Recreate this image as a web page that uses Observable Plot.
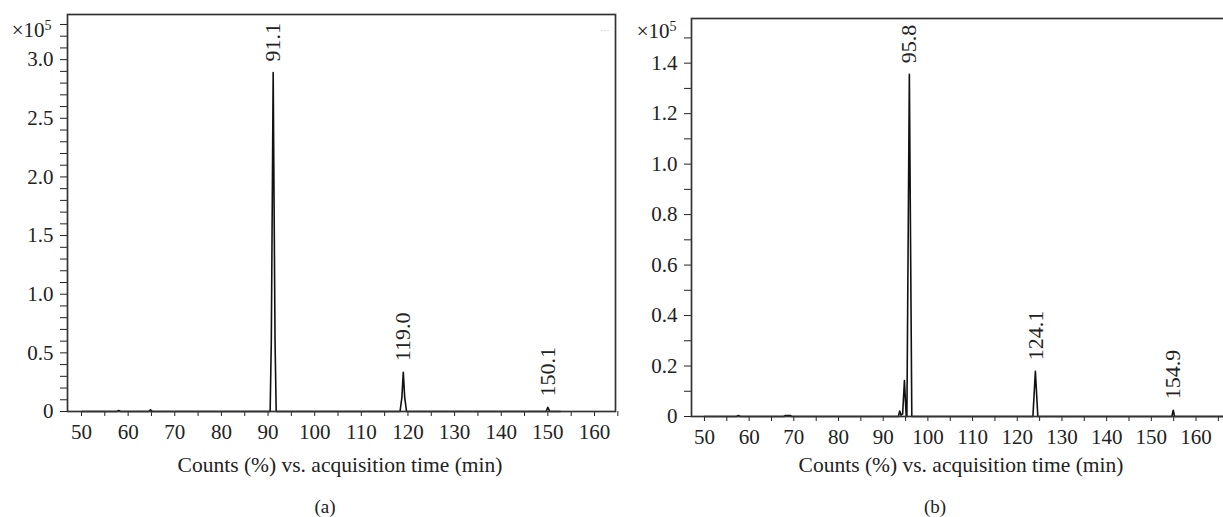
<!DOCTYPE html>
<html><head><meta charset="utf-8">
<script src="https://cdn.jsdelivr.net/npm/d3@7"></script>
<script src="https://cdn.jsdelivr.net/npm/@observablehq/plot@0.6"></script>
<style>
html,body{margin:0;padding:0;background:#fff;}
body{width:1223px;height:517px;overflow:hidden;position:relative;font-family:"Liberation Serif","Times New Roman",serif;color:#222;}
.panel{position:absolute;top:0;}
.xlabel{position:absolute;top:452px;font-size:21.5px;line-height:26px;white-space:nowrap;transform:translateX(-50%);}
.cap{position:absolute;top:496px;font-size:19px;line-height:22px;white-space:nowrap;transform:translateX(-50%);}
</style></head><body>
<div id="a" class="panel" style="left:0;width:625px"></div>
<div id="b" class="panel" style="left:612px;width:640px"></div>
<div class="xlabel" style="left:340px">Counts (%) vs. acquisition time (min)</div>
<div class="xlabel" style="left:961px">Counts (%) vs. acquisition time (min)</div>
<div class="cap" style="left:325px">(a)</div>
<div class="cap" style="left:935px">(b)</div>
<script>
// ---- Data (counts in ×10^5, time in min) ----
const timesA  = [50, 57.6, 58.0, 58.4, 64.4, 64.8, 65.2, 90.45, 90.7, 91.1, 91.5, 91.75, 118.3, 118.7, 119.0, 119.3, 119.7, 149.6, 150.0, 150.4, 152.7];
const countsA = [0, 0, 0.008, 0, 0, 0.015, 0, 0, 0.6, 2.89, 0.6, 0, 0, 0.12, 0.335, 0.12, 0, 0, 0.035, 0, 0];
const peakTimesA  = [91.1, 119.0, 150.1];
const peakHeightsA = [2.89, 0.335, 0.035];
const peakLabelsA = ["91.1", "119.0", "150.1"];
const yTicksA = [0, 0.5, 1.0, 1.5, 2.0, 2.5, 3.0];
const yMinorA = [0.1,0.2,0.3,0.4,0.6,0.7,0.8,0.9,1.1,1.2,1.3,1.4,1.6,1.7,1.8,1.9,2.1,2.2,2.3,2.4,2.6,2.7,2.8,2.9,3.1,3.2,3.3];

const timesB  = [50, 57.2, 57.6, 58.0, 67.8, 68.1, 69.2, 69.5, 93.4, 93.7, 94.0, 94.35, 94.75, 95.15, 95.3, 95.85, 96.4, 123.5, 124.05, 124.6, 154.6, 154.9, 155.2, 170];
const countsB = [0, 0, 0.004, 0, 0, 0.004, 0.004, 0, 0, 0.022, 0.005, 0.01, 0.142, 0, 0, 1.356, 0, 0, 0.179, 0, 0, 0.025, 0, 0];
const peakTimesB  = [95.8, 124.1, 154.9];
const peakHeightsB = [1.356, 0.179, 0.025];
const peakLabelsB = ["95.8", "124.1", "154.9"];
const yTicksB = [0, 0.2, 0.4, 0.6, 0.8, 1.0, 1.2, 1.4];
const yMinorB = [0.1, 0.3, 0.5, 0.7, 0.9, 1.1, 1.3, 1.5];

const xTicks = [50, 60, 70, 80, 90, 100, 110, 120, 130, 140, 150, 160];
const xMinor = [55, 65, 75, 85, 95, 105, 115, 125, 135, 145, 155, 165];

function chart(o) {
  const trace = o.times.map((t, i) => ({t, c: o.counts[i]}));
  const peaks = o.peakT.map((t, i) => ({t, c: o.peakH[i], label: o.peakL[i]}));
  const marks = [
    Plot.axisX({ticks: xTicks, tickSize: 5, tickPadding: 8, label: null, tickFormat: d => String(d), fontSize: 21}),
    Plot.axisX({ticks: xMinor, tickSize: 5, label: null, tickFormat: () => ""}),
    Plot.axisY({ticks: o.yTicks, tickSize: 7, tickPadding: 7, label: null, tickFormat: d => d === 0 ? "0" : d.toFixed(1), fontSize: 21}),
    Plot.axisY({ticks: o.yMinor, tickSize: 7, label: null, tickFormat: () => ""}),
    Plot.line(trace, {x: "t", y: "c", stroke: "#111", strokeWidth: 1.6}),
    Plot.text(peaks, {x: "t", y: "c", text: "label", rotate: -90, textAnchor: "start", dy: -11, fontSize: 22}),
    Plot.text(["×10^5"], {frameAnchor: "top-left", textAnchor: "end", dx: o.expDx, dy: o.expDy, fontSize: 21}),
    Plot.frame({stroke: "#333", strokeWidth: 1.7})
  ];
  if (o.dots) marks.push(Plot.text(["···"], {frameAnchor: "top-right", textAnchor: "end", dx: -6, dy: 12, fontSize: 9, fill: "#aaa"}));
  const svg = Plot.plot({
    width: o.width, height: o.height,
    marginLeft: o.mL, marginTop: o.mT, marginRight: o.mR, marginBottom: o.mB,
    style: {fontFamily: "'Liberation Serif', 'Times New Roman', serif", fontSize: "21px", color: "#222", background: "transparent", overflow: "visible"},
    x: {domain: o.xDomain},
    y: {domain: [0, o.yMax]},
    marks
  });
  d3.select(svg).selectAll("text").filter(function () { return this.textContent === "×10^5"; }).each(function () {
    const t = d3.select(this);
    t.text(null);
    t.append("tspan").text("×10");
    t.append("tspan").attr("dy", "-0.5em").attr("font-size", "14px").text("5");
  });
  return svg;
}

document.getElementById("a").append(chart({
  times: timesA, counts: countsA, peakT: peakTimesA, peakH: peakHeightsA, peakL: peakLabelsA,
  yTicks: yTicksA, yMinor: yMinorA, xDomain: [47, 164.5], yMax: 3.385,
  width: 625, height: 450, mL: 67, mT: 14, mR: 10, mB: 39, expDx: -16, expDy: 8, dots: true
}));
document.getElementById("b").append(chart({
  times: timesB, counts: countsB, peakT: peakTimesB, peakH: peakHeightsB, peakL: peakLabelsB,
  yTicks: yTicksB, yMinor: yMinorB, xDomain: [47.1, 170.4], yMax: 1.577,
  width: 640, height: 450, mL: 79, mT: 18, mR: 10, mB: 34, expDx: -15, expDy: 5, dots: false
}));
</script>
</body></html>
